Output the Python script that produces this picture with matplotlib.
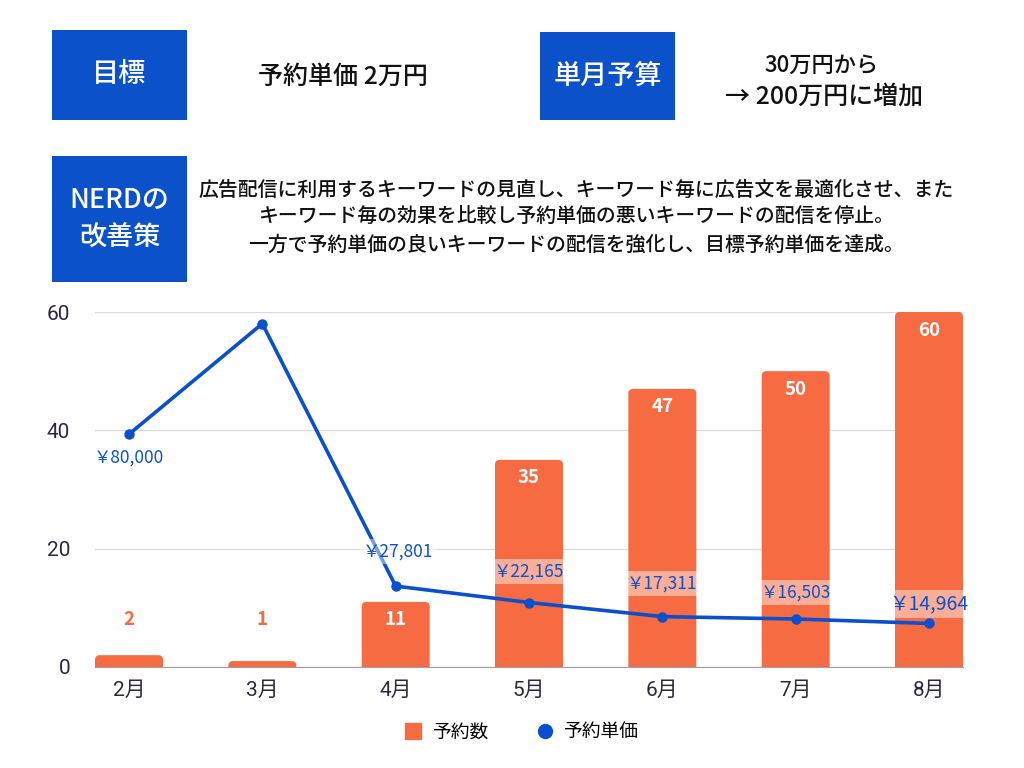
"""予約数 / 予約単価 の推移チャート"""
import matplotlib
matplotlib.use('Agg')
import matplotlib.pyplot as plt
import matplotlib.patches as mpatches
from matplotlib.lines import Line2D

plt.rcParams['font.family'] = ['Noto Sans CJK JP', 'DejaVu Sans']

# ── データ ──────────────────────────────────────────────
MONTHS     = ['2月', '3月', '4月', '5月', '6月', '7月', '8月']
BOOKINGS   = [2, 1, 11, 35, 47, 50, 60]
UNIT_PRICE = [80000, 118000, 27801, 22165, 17311, 16503, 14964]
PRICE_LABEL_SHOWN = [True, False, True, True, True, True, True]

C_BLUE  = '#0b51c9'
C_LINE  = '#0a50cc'
C_BAR   = '#f76b43'
C_TICK  = '#2e2740'
C_GRID  = '#dcdcdc'

fig = plt.figure(figsize=(10.24, 7.68), dpi=100)
fig.patch.set_facecolor('white')

# ── ヘッダー部分 (ピクセル座標) ──────────────────────────
hd = fig.add_axes([0, 0, 1, 1])
hd.set_xlim(0, 1024); hd.set_ylim(768, 0); hd.axis('off')

def box(x, y, w, h, lines, ys):
    hd.add_patch(mpatches.Rectangle((x, y), w, h, fc=C_BLUE, ec='none'))
    for t, yy in zip(lines, ys):
        hd.text(x + w/2, yy, t, ha='center', va='center', fontsize=19.5,
                color='white', fontweight='medium')

box(52, 30, 135, 90, ['目標'], [75])
hd.text(343, 77, '予約単価 2万円', ha='center', va='center', fontsize=18,
        color='#111', fontweight='medium')
box(540, 32, 135, 88, ['単月予算'], [76])
hd.text(822, 65, '30万円から', ha='center', va='center', fontsize=16,
        color='#111', fontweight='medium')
hd.text(824, 97, '→ 200万円に増加', ha='center', va='center', fontsize=18,
        color='#111', fontweight='medium')
box(52, 156, 135, 126, ['NERDの', '改善策'], [200, 238])
hd.text(576, 218,
        '広告配信に利用するキーワードの見直し、キーワード毎に広告文を最適化させ、また\n'
        'キーワード毎の効果を比較し予約単価の悪いキーワードの配信を停止。\n'
        '一方で予約単価の良いキーワードの配信を強化し、目標予約単価を達成。',
        ha='center', va='center', fontsize=14.3, color='#111',
        linespacing=1.55, fontweight='medium')

# ── チャート ─────────────────────────────────────────────
ax = fig.add_axes([95/1024, 101/768, 868/1024, 355/768])
ax.set_facecolor('none')
x = list(range(len(MONTHS)))
bars = ax.bar(x, BOOKINGS, width=0.51, color=C_BAR, zorder=2)
ax.set_xlim(-0.255, 6.255)
ax.set_ylim(0, 60)

# 角丸 (上側のみ見える様に下へはみ出させてクリップ)
aspect = (60/355) / (6.51/868)
for b in bars:
    b.set_visible(False)
    p = mpatches.FancyBboxPatch((b.get_x(), -1.5), b.get_width(), b.get_height() + 1.5,
                                boxstyle='round,pad=0,rounding_size=0.035',
                                mutation_aspect=aspect, fc=C_BAR, ec='none',
                                zorder=2, clip_on=True)
    ax.add_patch(p)

for xi, v in zip(x, BOOKINGS):
    if v < 5:
        ax.text(xi, 8.1, str(v), ha='center', va='center', fontsize=13.5,
                color=C_BAR, fontweight='bold')
    else:
        ax.annotate(str(v), (xi, v), xytext=(0, -13), textcoords='offset points',
                    ha='center', va='center', fontsize=13.5, color='white',
                    fontweight='bold', zorder=4)

ax.set_yticks([0, 20, 40, 60])
ax.grid(axis='y', color=C_GRID, lw=1, zorder=0)
for s in ['top', 'right', 'left']:
    ax.spines[s].set_visible(False)
ax.spines['bottom'].set_color('#a29cab')
ax.spines['bottom'].set_zorder(3)
ax.tick_params(axis='both', length=0, labelsize=15, labelcolor=C_TICK)
ax.tick_params(axis='y', pad=18)
ax.tick_params(axis='x', pad=10)
ax.set_xticks(x)
ax.set_xticklabels(MONTHS)
for lbl in ax.get_yticklabels() + ax.get_xticklabels():
    lbl.set_family(['Roboto', 'Noto Sans CJK JP'])

# 予約単価 (第2軸・非表示)
ax2 = ax.twinx()
ax2.set_ylim(0, 122000)
ax2.axis('off')
ax2.plot(x, UNIT_PRICE, color=C_LINE, lw=2.6, marker='o', ms=6.5, zorder=5)

LABEL_OFFSETS = [(0, -17), (0, 0), (2, 25), (0, 22), (0, 24), (0, 19), (0, 14)]
LABEL_SIZES   = [12.5, 12.5, 12.5, 12.5, 12.5, 12.5, 14]
for xi, v, show, off, fs in zip(x, UNIT_PRICE, PRICE_LABEL_SHOWN, LABEL_OFFSETS, LABEL_SIZES):
    if not show:
        continue
    ax2.annotate(f'￥{v:,}', (xi, v), xytext=off, textcoords='offset points',
                 ha='center', va='center', fontsize=fs, color=C_BLUE, zorder=6,
                 bbox=dict(boxstyle='square,pad=0.2', fc='white', ec='none', alpha=0.45))

# 凡例
handles = [
    Line2D([], [], marker='s', ls='none', color=C_BAR, ms=11),
    Line2D([], [], marker='o', ls='none', color=C_LINE, ms=10),
]
fig.legend(handles, ['予約数', '予約単価'], loc='center', bbox_to_anchor=(0.509, 0.047),
           ncol=2, frameon=False, fontsize=13.5, handletextpad=0.5, columnspacing=2.5,
           handlelength=1.0)

plt.savefig('out.png', dpi=100, facecolor='white')
plt.close()
print('saved: out.png')
